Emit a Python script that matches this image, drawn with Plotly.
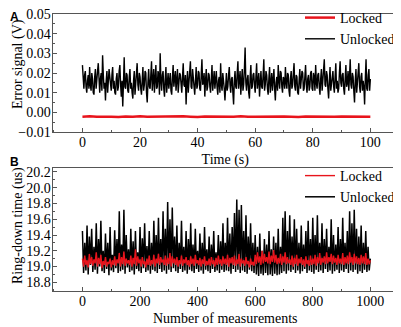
import plotly.graph_objects as go

# Panel A: error signal (V) when unlocked, sampled every 0.25 s from 0 to 100 s
a_unlocked = [
    0.024,0.017,0.012,0.019,0.021,0.013,0.010,0.016,0.019,0.012,0.023,0.014,0.011,0.020,0.017,0.010,0.009,0.018,0.022,0.012,
    0.015,0.021,0.025,0.013,0.010,0.017,0.020,0.011,0.029,0.019,0.012,0.015,0.006,0.016,0.021,0.010,0.014,0.022,0.018,0.011,
    0.011,0.019,0.023,0.012,0.016,0.010,0.009,0.017,0.020,0.011,0.013,0.021,0.024,0.014,0.008,0.016,0.003,0.015,0.028,0.013,
    0.012,0.020,0.019,0.011,0.010,0.018,0.022,0.012,0.015,0.010,0.007,0.016,0.021,0.009,0.013,0.019,0.025,0.014,0.011,0.020,
    0.018,0.012,0.009,0.016,0.023,0.011,0.014,0.021,0.020,0.010,0.005,0.015,0.022,0.013,0.012,0.019,0.026,0.011,0.016,0.022,
    0.010,0.017,0.024,0.012,0.013,0.021,0.019,0.009,0.030,0.016,0.011,0.019,0.021,0.012,0.008,0.017,0.023,0.010,0.015,0.020,
    0.012,0.017,0.020,0.011,0.009,0.018,0.024,0.013,0.016,0.021,0.011,0.017,0.022,0.010,0.014,0.020,0.019,0.012,0.010,0.018,
    0.025,0.014,0.013,0.019,0.004,0.015,0.021,0.010,0.015,0.020,0.026,0.013,0.012,0.022,0.018,0.011,0.009,0.016,0.023,0.012,
    0.014,0.021,0.020,0.012,0.011,0.019,0.027,0.014,0.015,0.020,0.008,0.016,0.022,0.011,0.013,0.020,0.019,0.013,0.010,0.017,
    0.024,0.011,0.016,0.021,0.012,0.018,0.021,0.013,0.009,0.016,0.018,0.010,0.025,0.014,0.011,0.020,0.017,0.012,0.006,0.015,
    0.020,0.011,0.013,0.019,0.023,0.014,0.010,0.017,0.018,0.010,0.004,0.016,0.021,0.013,0.012,0.020,0.026,0.012,0.015,0.021,
    0.009,0.018,0.022,0.011,0.014,0.022,0.033,0.015,0.011,0.017,0.019,0.010,0.007,0.018,0.024,0.012,0.013,0.019,0.020,0.014,
    0.010,0.018,0.025,0.012,0.015,0.020,0.008,0.016,0.021,0.013,0.012,0.019,0.027,0.011,0.014,0.021,0.019,0.012,0.009,0.017,
    0.023,0.010,0.016,0.020,0.011,0.017,0.022,0.012,0.006,0.015,0.018,0.011,0.024,0.016,0.012,0.021,0.020,0.013,0.010,0.018,
    0.017,0.012,0.023,0.015,0.012,0.020,0.019,0.011,0.008,0.017,0.021,0.012,0.014,0.020,0.025,0.013,0.011,0.019,0.018,0.010,
    0.009,0.016,0.022,0.012,0.015,0.021,0.020,0.011,0.012,0.018,0.024,0.014,0.010,0.017,0.019,0.011,0.013,0.020,0.021,0.012,
    0.011,0.020,0.018,0.011,0.024,0.015,0.012,0.019,0.020,0.013,0.009,0.017,0.022,0.011,0.015,0.020,0.027,0.014,0.013,0.021,
    0.019,0.012,0.007,0.016,0.023,0.011,0.014,0.019,0.021,0.013,0.010,0.018,0.025,0.012,0.016,0.010,0.012,0.020,0.026,0.015,
    0.013,0.019,0.020,0.012,0.009,0.017,0.024,0.013,0.015,0.021,0.011,0.018,0.027,0.014,0.012,0.020,0.018,0.011,0.005,0.016,
    0.022,0.010,0.014,0.020,0.025,0.013,0.010,0.018,0.020,0.011,0.016,0.013,0.004,0.017,0.027,0.012,0.011,0.019,0.022,0.011,
    0.017,
]
# locked error signal (V), every 2.5 s
a_locked = [
    -0.0022, -0.0020, -0.0023, -0.0021, -0.0022, -0.0024, -0.0021, -0.0022, -0.0020, -0.0023,
    -0.0022, -0.0021, -0.0023, -0.0022, -0.0020, -0.0022, -0.0024, -0.0021, -0.0022, -0.0023,
    -0.0021, -0.0022, -0.0020, -0.0023, -0.0022, -0.0021, -0.0023, -0.0022, -0.0021, -0.0022,
    -0.0024, -0.0021, -0.0022, -0.0020, -0.0023, -0.0022, -0.0021, -0.0022, -0.0023, -0.0021, -0.0022,
]

# Panel B: ring-down time (us), every 4th measurement from 0 to 1000
b_unlocked = [
    19.45, 18.92, 19.30, 18.95, 19.52, 18.90, 19.38, 19.02, 19.48, 18.93,
    19.25, 18.96, 19.55, 18.91, 19.35, 19.00, 19.58, 18.94, 19.20, 18.92,
    19.42, 18.97, 19.30, 18.89, 19.50, 18.95, 19.15, 18.93, 19.46, 18.98,
    19.35, 18.92, 19.70, 18.94, 19.28, 18.96, 19.72, 18.91, 19.40, 18.99,
    19.22, 18.93, 19.48, 18.95, 19.32, 18.90, 19.45, 18.97, 19.18, 18.94,
    19.50, 18.92, 19.36, 18.98, 19.55, 18.93, 19.26, 18.95, 19.45, 18.91,
    19.30, 18.96, 19.58, 18.94, 19.40, 18.92, 19.62, 18.97, 19.35, 18.93,
    19.70, 18.95, 19.48, 18.91, 19.82, 18.96, 19.60, 18.93, 19.75, 18.98,
    19.38, 18.94, 19.52, 18.92, 19.30, 18.97, 19.58, 18.93, 19.25, 18.95,
    19.45, 18.91, 19.35, 18.96, 19.55, 18.94, 19.28, 18.92, 19.48, 18.97,
    19.20, 18.93, 19.42, 18.95, 19.30, 18.91, 19.50, 18.96, 19.22, 18.94,
    19.38, 18.92, 19.28, 18.97, 19.45, 18.93, 19.18, 18.95, 19.40, 18.92,
    19.32, 18.96, 19.55, 18.93, 19.30, 18.95, 19.62, 18.94, 19.42, 18.91,
    19.50, 18.97, 19.68, 18.93, 19.85, 18.96, 19.72, 18.92, 19.78, 18.95,
    19.45, 18.93, 19.65, 18.91, 19.38, 18.96, 19.55, 18.94, 19.30, 18.92,
    19.40, 18.90, 19.25, 18.88, 19.42, 18.91, 19.20, 18.89, 19.35, 18.92,
    19.28, 18.89, 19.45, 18.90, 19.22, 18.88, 19.38, 18.91, 19.30, 18.89,
    19.48, 18.90, 19.25, 18.92, 19.62, 18.94, 19.70, 18.91, 19.45, 18.95,
    19.65, 18.93, 19.38, 18.96, 19.60, 18.92, 19.48, 18.95, 19.30, 18.91,
    19.52, 18.94, 19.28, 18.97, 19.45, 18.92, 19.58, 18.95, 19.35, 18.93,
    19.62, 18.91, 19.40, 18.96, 19.65, 18.93, 19.30, 18.95, 19.55, 18.92,
    19.35, 18.97, 19.48, 18.93, 19.25, 18.95, 19.60, 18.91, 19.40, 18.94,
    19.28, 18.96, 19.50, 18.92, 19.35, 18.95, 19.62, 18.93, 19.30, 18.97,
    19.45, 18.92, 19.70, 18.95, 19.55, 18.93, 19.72, 18.96, 19.48, 18.91,
    19.38, 18.94, 19.52, 18.92, 19.30, 18.96, 19.45, 18.93, 19.25, 18.95,
    19.10,
]
b_locked = [
    19.10, 19.00, 19.14, 19.02, 19.08, 18.99, 19.16, 19.03, 19.12, 19.01,
    19.09, 19.04, 19.18, 19.00, 19.11, 19.03, 19.15, 18.98, 19.07, 19.02,
    19.12, 19.00, 19.06, 19.03, 19.10, 18.99, 19.08, 19.02, 19.13, 19.01,
    19.09, 19.04, 19.17, 19.00, 19.12, 19.03, 19.19, 19.01, 19.10, 19.04,
    19.08, 19.02, 19.14, 19.00, 19.11, 19.03, 19.22, 19.01, 19.13, 19.04,
    19.09, 19.00, 19.12, 19.03, 19.07, 18.99, 19.10, 19.02, 19.14, 19.01,
    19.08, 19.03, 19.15, 19.00, 19.10, 19.04, 19.16, 19.02, 19.12, 19.05,
    19.09, 19.02, 19.14, 19.01, 19.11, 19.03, 19.17, 19.00, 19.13, 19.04,
    19.10, 19.02, 19.12, 19.00, 19.08, 19.03, 19.14, 19.01, 19.09, 19.04,
    19.12, 19.02, 19.08, 19.00, 19.13, 19.03, 19.10, 19.01, 19.15, 19.04,
    19.08, 19.02, 19.11, 19.00, 19.09, 19.03, 19.13, 19.01, 19.07, 19.02,
    19.10, 19.01, 19.12, 19.03, 19.08, 19.00, 19.11, 19.02, 19.14, 19.03,
    19.09, 19.01, 19.13, 19.03, 19.10, 19.02, 19.15, 19.00, 19.11, 19.04,
    19.12, 19.02, 19.14, 19.01, 19.09, 19.03, 19.16, 19.00, 19.10, 19.04,
    19.08, 19.01, 19.12, 19.03, 19.07, 18.99, 19.10, 19.02, 19.06, 19.01,
    19.15, 19.03, 19.18, 19.05, 19.13, 19.02, 19.20, 19.04, 19.16, 19.06,
    19.12, 19.04, 19.19, 19.03, 19.14, 19.06, 19.21, 19.05, 19.15, 19.03,
    19.11, 19.04, 19.16, 19.02, 19.13, 19.05, 19.18, 19.03, 19.12, 19.04,
    19.09, 19.02, 19.14, 19.00, 19.11, 19.03, 19.15, 19.01, 19.10, 19.04,
    19.12, 19.02, 19.09, 19.00, 19.13, 19.03, 19.08, 19.01, 19.14, 19.02,
    19.10, 19.03, 19.15, 19.01, 19.12, 19.04, 19.17, 19.02, 19.11, 19.05,
    19.13, 19.03, 19.18, 19.04, 19.12, 19.06, 19.16, 19.03, 19.14, 19.05,
    19.11, 19.02, 19.15, 19.04, 19.10, 19.03, 19.17, 19.02, 19.12, 19.04,
    19.14, 19.03, 19.18, 19.05, 19.12, 19.02, 19.16, 19.04, 19.13, 19.03,
    19.11, 19.02, 19.15, 19.04, 19.13, 19.03, 19.17, 19.02, 19.10, 19.03,
    19.08,
]

a_xticks = [0, 20, 40, 60, 80, 100]
a_yticks = [-0.01, 0.00, 0.01, 0.02, 0.03, 0.04, 0.05]
a_ylabels = ["\u22120.01", "0.00", "0.01", "0.02", "0.03", "0.04", "0.05"]
b_xticks = [0, 200, 400, 600, 800, 1000]
b_yticks = [18.8, 19.0, 19.2, 19.4, 19.6, 19.8, 20.0, 20.2]
b_ylabels = ["18.8", "19.0", "19.2", "19.4", "19.6", "19.8", "20.0", "20.2"]

W, H = 401, 327
OFF = 8  # the page body adds an 8px margin; place everything in screen pixels
SERIF = "Liberation Serif, Times New Roman, serif"
SANS = "Liberation Sans, Arial, sans-serif"
RED = "#e8141c"
FRAME = "#555"

fig = go.Figure()
# Panel A
fig.add_trace(go.Scatter(y=a_unlocked, x0=0, dx=0.25, mode="lines", name="Unlocked",
                         line=dict(color="black", width=1.4), xaxis="x", yaxis="y",
                         legend="legend", legendrank=2))
fig.add_trace(go.Scatter(y=a_locked, x0=0, dx=2.5, mode="lines", name="Locked",
                         line=dict(color=RED, width=2.5), xaxis="x", yaxis="y",
                         legend="legend", legendrank=1))
# Panel B
fig.add_trace(go.Scatter(y=b_unlocked, x0=0, dx=4, mode="lines", name="Unlocked",
                         line=dict(color="black", width=1.5), xaxis="x2", yaxis="y2",
                         legend="legend2", legendrank=2))
fig.add_trace(go.Scatter(y=b_locked, x0=0, dx=4, mode="lines", name="Locked",
                         line=dict(color=RED, width=1.4), xaxis="x2", yaxis="y2",
                         legend="legend2", legendrank=1))


def px_x(p):
    return (p - OFF) / W


def px_y(p):
    return 1 - (p - OFF) / H


def dom(a, b):
    return [max(0.0, a), min(1.0, b)]


tickfont = dict(family=SERIF, size=14, color="black")
titlefont = dict(family=SERIF, size=14, color="black")
common_axis = dict(showline=True, linecolor=FRAME, linewidth=1, mirror=True,
                   ticks="inside", ticklen=4, tickcolor=FRAME, showgrid=False,
                   zeroline=False, tickfont=tickfont, ticklabeloverflow="allow")
xcommon = dict(common_axis, ticklabelstandoff=-3)
ycommon = dict(common_axis, ticklabelstandoff=-2)

fig.update_layout(
    width=W, height=H,
    margin=dict(l=0, r=0, t=0, b=0, autoexpand=False),
    paper_bgcolor="white", plot_bgcolor="white",
    font=dict(family=SERIF, size=14, color="black"),
    xaxis=dict(domain=dom(px_x(52.5), px_x(398)), range=[-10.4, 109.6], anchor="y",
               tickvals=a_xticks, ticktext=[str(v) for v in a_xticks],
               minor=dict(ticks="inside", ticklen=2.5, tickcolor=FRAME, dtick=10, tick0=0),
               title=dict(text="Time (s)", standoff=5, font=titlefont),
               **xcommon),
    yaxis=dict(domain=dom(px_y(132), px_y(14)), range=[-0.01, 0.05], anchor="x",
               tickvals=a_yticks, ticktext=a_ylabels,
               minor=dict(ticks="inside", ticklen=2.5, tickcolor=FRAME, dtick=0.005, tick0=0),
               **ycommon),
    xaxis2=dict(domain=dom(px_x(52.5), px_x(398)), range=[-104, 1096], anchor="y2",
                tickvals=b_xticks, ticktext=[str(v) for v in b_xticks],
                minor=dict(ticks="inside", ticklen=2.5, tickcolor=FRAME, dtick=100, tick0=0),
                title=dict(text="Number of measurements", standoff=5, font=titlefont),
                **xcommon),
    yaxis2=dict(domain=dom(px_y(291), px_y(168)), range=[18.69, 20.25], anchor="x2",
                tickvals=b_yticks, ticktext=b_ylabels,
                minor=dict(ticks="inside", ticklen=2.5, tickcolor=FRAME, dtick=0.1, tick0=0),
                **ycommon),
    legend=dict(x=px_x(300), y=px_y(2), xanchor="left", yanchor="top",
                bgcolor="rgba(0,0,0,0)", font=dict(family=SERIF, size=14),
                tracegroupgap=0, itemwidth=30),
    legend2=dict(x=px_x(300), y=px_y(160), xanchor="left", yanchor="top",
                 bgcolor="rgba(0,0,0,0)", font=dict(family=SERIF, size=14),
                 tracegroupgap=0, itemwidth=30),
    showlegend=True,
    annotations=[
        dict(text="<b>A</b>", x=0, y=1, xref="paper", yref="paper",
             xanchor="left", yanchor="top", showarrow=False,
             font=dict(family=SANS, size=12, color="black")),
        dict(text="<b>B</b>", x=0, y=px_y(153), xref="paper", yref="paper",
             xanchor="left", yanchor="top", showarrow=False,
             font=dict(family=SANS, size=12, color="black")),
        # y-axis titles
        dict(text="Error signal (V)", textangle=-90, x=0, y=px_y(64), xref="paper", yref="paper",
             xanchor="left", yanchor="middle", showarrow=False, font=titlefont),
        dict(text="Ring-down time (us)", textangle=-90, x=0, y=px_y(226), xref="paper", yref="paper",
             xanchor="left", yanchor="middle", showarrow=False, font=titlefont),
    ],
)

fig.write_html("out.html")
